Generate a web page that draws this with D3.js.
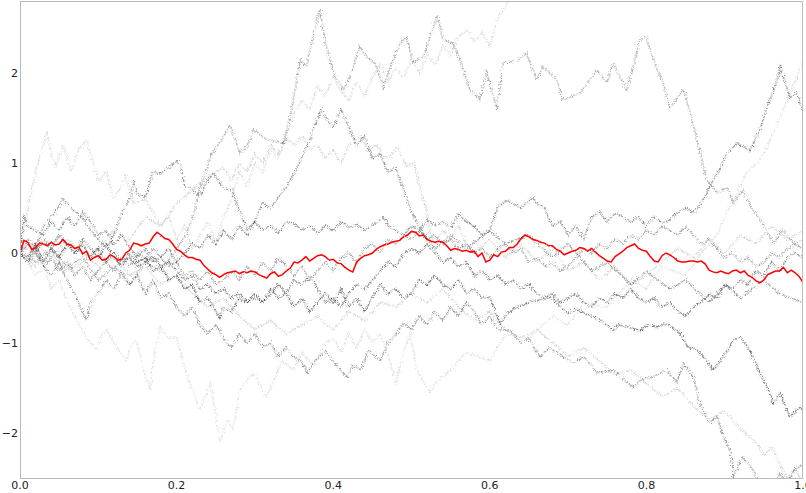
<!DOCTYPE html>
<html>
<head>
<meta charset="utf-8">
<script src="https://cdn.jsdelivr.net/npm/d3@7"></script>
<style>
  html, body { margin: 0; padding: 0; background: #fff; overflow: hidden; }
  #chart text { font-family: "DejaVu Sans", sans-serif; font-size: 11px; fill: #222; }
</style>
</head>
<body>
<div id="chart"></div>
<script>
// Tick labels
var xTicks = [0, 0.2, 0.4, 0.6, 0.8, 1.0];
var yTicks = [-2, -1, 0, 1, 2];

// Sample paths as [t, value] pairs.
var pathA = [[0,0],[0.01,0.15],[0.02,0.05],[0.03,0.3],[0.045,0.45],[0.055,0.6],[0.065,0.5],[0.08,0.4],[0.09,0.25],[0.1,0.15],[0.11,0.05],[0.12,0.2],[0.13,0.45],[0.14,0.6],[0.145,0.78],[0.15,0.65],[0.16,0.62],[0.17,0.9],[0.18,0.88],[0.19,0.95],[0.2,1.03],[0.205,0.98],[0.21,0.75],[0.22,0.7],[0.23,0.62],[0.24,0.82],[0.247,0.89],[0.26,0.72],[0.27,0.7],[0.28,0.48],[0.29,0.26],[0.3,0.35],[0.31,0.56],[0.32,0.5],[0.33,0.62],[0.34,0.73],[0.35,0.88],[0.36,1.07],[0.37,1.26],[0.38,1.5],[0.385,1.59],[0.39,1.5],[0.4,1.4],[0.41,1.6],[0.42,1.4],[0.43,1.2],[0.44,1.3],[0.45,1.05],[0.46,1.1],[0.47,0.9],[0.48,0.95],[0.49,0.7],[0.5,0.45],[0.51,0.3],[0.52,0.15],[0.53,0.05],[0.55,0.2],[0.57,0.05],[0.6,0.25],[0.62,0.1],[0.65,0.2],[0.68,-0.05],[0.7,0.1],[0.73,-0.2],[0.75,-0.1],[0.78,-0.35],[0.8,-0.2],[0.83,-0.4],[0.85,-0.3],[0.88,-0.55],[0.9,-0.35],[0.92,-0.5],[0.95,-0.3],[0.97,-0.45],[1,-0.55]];
var pathB = [[0,0],[0.02,-0.1],[0.04,0.05],[0.06,-0.15],[0.08,-0.05],[0.1,-0.3],[0.12,-0.15],[0.14,-0.35],[0.16,-0.1],[0.18,-0.2],[0.2,0.05],[0.213,0.22],[0.221,0.4],[0.23,0.73],[0.239,0.96],[0.247,1.14],[0.255,1.22],[0.268,1.42],[0.281,1.11],[0.29,1.18],[0.298,1.37],[0.315,1.26],[0.336,1.22],[0.345,1.51],[0.349,1.7],[0.358,2.14],[0.366,2.07],[0.375,2.44],[0.383,2.7],[0.39,2.35],[0.4,2.0],[0.413,1.81],[0.421,1.96],[0.434,2.29],[0.443,2.18],[0.456,2.07],[0.464,1.84],[0.473,2.07],[0.485,2.33],[0.494,2.4],[0.502,2.11],[0.515,2.18],[0.533,2.64],[0.54,2.37],[0.553,2.33],[0.562,2.14],[0.575,1.81],[0.587,1.7],[0.596,2.0],[0.609,1.59],[0.617,2.11],[0.635,2.14],[0.647,2.22],[0.66,1.92],[0.668,2.07],[0.686,1.92],[0.693,1.7],[0.715,1.78],[0.737,2.03],[0.75,1.89],[0.757,2.11],[0.775,1.81],[0.792,2.37],[0.8,2.4],[0.808,2.18],[0.821,1.89],[0.83,1.62],[0.847,1.81],[0.856,1.56],[0.868,1.14],[0.877,0.81],[0.89,0.67],[0.903,0.73],[0.911,0.56],[0.923,0.7],[0.936,0.48],[0.949,0.33],[0.962,0.11],[0.974,0.26],[0.987,0.11],[1,0.14]];
var pathC = [[0,0],[0.01,0.5],[0.02,0.9],[0.034,1.35],[0.04,1.1],[0.045,0.95],[0.055,1.2],[0.065,0.9],[0.075,1.15],[0.085,1.25],[0.095,0.95],[0.1,0.8],[0.11,0.9],[0.12,0.6],[0.13,0.75],[0.135,0.85],[0.145,0.55],[0.16,0.6],[0.17,0.45],[0.18,0.3],[0.19,0.4],[0.2,0.15],[0.21,0.3],[0.22,0.05],[0.23,0.2],[0.24,0.35],[0.25,0.1],[0.26,0.4],[0.27,0.6],[0.28,0.9],[0.29,0.75],[0.3,1.0],[0.31,0.9],[0.32,1.15],[0.33,1.05],[0.34,1.3],[0.35,1.55],[0.36,1.7],[0.37,1.6],[0.38,1.85],[0.39,1.75],[0.4,1.95],[0.41,1.8],[0.42,1.7],[0.43,1.9],[0.44,1.75],[0.45,1.95],[0.46,2.1],[0.47,1.9],[0.48,2.05],[0.49,1.95],[0.5,2.15],[0.51,2.0],[0.52,2.2],[0.53,2.1],[0.54,2.3],[0.55,2.2],[0.56,2.4],[0.571,2.48],[0.58,2.35],[0.59,2.45],[0.6,2.3],[0.61,2.6],[0.62,2.75],[0.626,2.85],[0.64,3.0],[0.66,3.2],[0.7,3.3],[0.8,3.5],[0.9,3.3],[1,3.4]];
var pathD = [[0,0],[0.005,0.4],[0.01,0.3],[0.02,0.25],[0.03,0.2],[0.04,0.35],[0.05,0.25],[0.06,0.4],[0.07,0.3],[0.08,0.45],[0.09,0.35],[0.1,0.2],[0.11,0.25],[0.12,0.1],[0.13,0.2],[0.14,0.05],[0.15,-0.05],[0.16,0.05],[0.17,-0.1],[0.18,-0.05],[0.19,0.05],[0.2,-0.1],[0.21,0.0],[0.22,0.1],[0.23,0.05],[0.24,0.2],[0.25,0.1],[0.26,0.25],[0.27,0.15],[0.28,0.3],[0.29,0.2],[0.3,0.35],[0.31,0.25],[0.32,0.3],[0.33,0.22],[0.34,0.35],[0.35,0.33],[0.36,0.25],[0.37,0.3],[0.38,0.22],[0.39,0.3],[0.4,0.25],[0.41,0.35],[0.42,0.28],[0.43,0.32],[0.44,0.25],[0.45,0.3],[0.465,0.4],[0.47,0.3],[0.48,0.25],[0.49,0.2],[0.5,0.3],[0.51,0.25],[0.52,0.37],[0.53,0.3],[0.54,0.35],[0.55,0.28],[0.56,0.44],[0.57,0.35],[0.58,0.3],[0.59,0.2],[0.6,0.25],[0.61,0.5],[0.62,0.59],[0.63,0.55],[0.64,0.5],[0.655,0.62],[0.66,0.55],[0.67,0.5],[0.68,0.3],[0.69,0.35],[0.7,0.2],[0.71,0.3],[0.72,0.15],[0.73,0.4],[0.74,0.45],[0.75,0.35],[0.76,0.44],[0.77,0.4],[0.78,0.35],[0.79,0.4],[0.8,0.3],[0.81,0.4],[0.82,0.33],[0.83,0.37],[0.84,0.45],[0.85,0.5],[0.86,0.45],[0.87,0.55],[0.885,0.81],[0.895,0.95],[0.903,1.11],[0.916,1.22],[0.932,1.14],[0.945,1.37],[0.954,1.62],[0.967,1.92],[0.971,2.07],[0.983,1.73],[0.992,1.78],[1,1.56]];
var pathF = [[0,0],[0.01,-0.05],[0.02,0.1],[0.03,-0.1],[0.04,0.05],[0.05,-0.05],[0.06,0.1],[0.07,0.0],[0.08,0.15],[0.09,0.05],[0.1,-0.05],[0.11,0.1],[0.12,-0.05],[0.13,-0.15],[0.14,0.0],[0.15,-0.1],[0.16,-0.05],[0.17,-0.2],[0.18,-0.15],[0.19,-0.3],[0.2,-0.25],[0.21,-0.4],[0.22,-0.35],[0.23,-0.55],[0.24,-0.5],[0.25,-0.65],[0.255,-0.72],[0.26,-0.6],[0.27,-0.65],[0.28,-0.5],[0.29,-0.55],[0.3,-0.45],[0.31,-0.55],[0.32,-0.4],[0.33,-0.5],[0.34,-0.45],[0.35,-0.6],[0.36,-0.5],[0.37,-0.65],[0.38,-0.55],[0.39,-0.45],[0.4,-0.55],[0.41,-0.4],[0.42,-0.6],[0.43,-0.5],[0.44,-0.65],[0.45,-0.5],[0.46,-0.35],[0.47,-0.45],[0.48,-0.4],[0.49,-0.5],[0.5,-0.45],[0.51,-0.3],[0.52,-0.35],[0.53,-0.25],[0.54,-0.35],[0.55,-0.4],[0.56,-0.3],[0.57,-0.45],[0.58,-0.4],[0.59,-0.5],[0.6,-0.49],[0.613,-0.78],[0.625,-0.65],[0.635,-0.6],[0.65,-0.55],[0.664,-0.52],[0.68,-0.49],[0.69,-0.6],[0.699,-0.67],[0.71,-0.62],[0.724,-0.68],[0.741,-0.74],[0.757,-0.86],[0.765,-0.8],[0.775,-0.82],[0.792,-0.86],[0.8,-0.8],[0.814,-0.82],[0.826,-0.78],[0.843,-0.89],[0.852,-1.04],[0.865,-1.08],[0.877,-1.19],[0.885,-1.3],[0.898,-1.16],[0.911,-0.97],[0.92,-0.93],[0.932,-1.08],[0.945,-1.33],[0.954,-1.49],[0.962,-1.67],[0.971,-1.56],[0.983,-1.82],[0.996,-1.71],[1,-1.75]];
var pathG = [[0,0],[0.01,-0.1],[0.02,0.05],[0.03,-0.15],[0.04,-0.25],[0.05,-0.1],[0.06,-0.3],[0.07,-0.45],[0.077,-0.6],[0.085,-0.75],[0.09,-0.55],[0.1,-0.45],[0.11,-0.3],[0.12,-0.4],[0.13,-0.2],[0.14,-0.35],[0.15,-0.25],[0.16,-0.45],[0.17,-0.3],[0.18,-0.5],[0.19,-0.45],[0.2,-0.6],[0.21,-0.7],[0.22,-0.6],[0.23,-0.8],[0.24,-0.9],[0.25,-0.8],[0.26,-0.95],[0.27,-1.05],[0.28,-0.9],[0.29,-1.0],[0.3,-0.9],[0.31,-1.05],[0.32,-1.0],[0.33,-1.15],[0.34,-1.05],[0.35,-1.16],[0.36,-1.2],[0.367,-1.33],[0.38,-1.16],[0.39,-1.1],[0.4,-1.2],[0.41,-1.3],[0.417,-1.38],[0.425,-1.25],[0.435,-1.3],[0.445,-1.08],[0.46,-1.2],[0.47,-1.0],[0.48,-0.9],[0.49,-0.78],[0.5,-0.85],[0.51,-0.7],[0.52,-0.8],[0.53,-0.65],[0.54,-0.75],[0.55,-0.6],[0.56,-0.7],[0.57,-0.55],[0.58,-0.65],[0.59,-0.8],[0.6,-0.7],[0.61,-0.85],[0.626,-0.86],[0.64,-1.0],[0.65,-0.95],[0.664,-1.16],[0.675,-1.05],[0.686,-1.11],[0.706,-1.22],[0.72,-1.15],[0.737,-1.33],[0.757,-1.3],[0.77,-1.4],[0.783,-1.49],[0.795,-1.4],[0.808,-1.38],[0.826,-1.3],[0.839,-1.44],[0.847,-1.22],[0.86,-1.38],[0.868,-1.67],[0.881,-1.89],[0.89,-1.82],[0.898,-2.04],[0.907,-2.19],[0.911,-2.49],[0.923,-2.27],[0.936,-2.41],[0.945,-2.6],[0.95,-2.7],[0.96,-2.6],[0.97,-2.45],[0.98,-2.55],[0.99,-2.4],[1,-2.35]];
var pathI = [[0,0],[0.02,-0.15],[0.04,0.0],[0.06,-0.2],[0.08,-0.1],[0.1,0.05],[0.12,0.25],[0.14,0.15],[0.16,0.4],[0.18,0.3],[0.2,0.55],[0.22,0.7],[0.24,0.85],[0.26,0.95],[0.27,0.8],[0.28,1.0],[0.29,0.9],[0.3,1.1],[0.31,1.0],[0.32,1.2],[0.33,1.1],[0.34,1.28],[0.35,1.2],[0.36,1.3],[0.37,1.15],[0.38,1.2],[0.39,1.05],[0.4,1.15],[0.41,1.0],[0.42,1.2],[0.434,1.29],[0.445,1.14],[0.455,1.2],[0.465,1.05],[0.473,1.07],[0.482,1.18],[0.494,0.96],[0.503,1.0],[0.511,0.73],[0.518,0.51],[0.524,0.22],[0.53,0.1],[0.54,0.25],[0.55,0.15],[0.56,0.3],[0.57,0.1],[0.58,0.0],[0.6,0.15],[0.62,-0.05],[0.64,0.1],[0.66,-0.1],[0.68,0.05],[0.7,-0.2],[0.72,-0.1],[0.74,-0.3],[0.76,-0.15],[0.78,-0.35],[0.8,-0.25],[0.82,-0.1],[0.84,0.05],[0.86,-0.05],[0.88,0.15],[0.9,0.0],[0.92,0.2],[0.94,0.1],[0.96,0.3],[0.98,0.15],[1,0.25]];
var pathJ = [[0,0],[0.01,-0.1],[0.02,-0.25],[0.03,-0.15],[0.04,-0.4],[0.05,-0.3],[0.06,-0.55],[0.07,-0.7],[0.077,-0.82],[0.085,-0.95],[0.098,-1.08],[0.105,-0.9],[0.111,-0.86],[0.12,-1.0],[0.136,-1.19],[0.143,-1.0],[0.149,-0.97],[0.158,-1.3],[0.166,-1.52],[0.172,-1.1],[0.179,-0.82],[0.19,-0.95],[0.2,-0.93],[0.208,-1.2],[0.217,-1.45],[0.23,-1.74],[0.243,-1.45],[0.25,-1.8],[0.255,-2.1],[0.265,-1.85],[0.272,-1.97],[0.281,-1.52],[0.298,-1.33],[0.315,-1.6],[0.325,-1.4],[0.335,-1.2],[0.35,-1.3],[0.36,-1.1],[0.375,-1.25],[0.39,-1.0],[0.4,-0.95],[0.41,-1.1],[0.42,-0.9],[0.43,-1.05],[0.44,-0.85],[0.45,-1.0],[0.46,-0.9],[0.468,-1.08],[0.48,-1.44],[0.49,-1.1],[0.498,-0.89],[0.506,-1.27],[0.515,-1.44],[0.524,-1.55],[0.53,-1.45],[0.55,-1.3],[0.57,-1.1],[0.6,-1.2],[0.62,-0.9],[0.65,-0.95],[0.68,-0.7],[0.7,-0.8],[0.72,-0.55],[0.75,-0.6],[0.78,-0.3],[0.8,-0.4],[0.82,-0.15],[0.85,-0.25],[0.87,0.0],[0.89,0.2],[0.9,0.4],[0.911,0.59],[0.92,0.75],[0.928,0.89],[0.945,1.03],[0.955,1.2],[0.962,1.33],[0.975,1.6],[0.98,1.7],[0.99,1.9],[1,2.14]];
var pathK = [[0,0],[0.01,0.1],[0.02,0.0],[0.03,0.15],[0.04,0.05],[0.05,0.2],[0.06,0.1],[0.07,0.0],[0.08,0.1],[0.09,-0.05],[0.1,0.05],[0.11,-0.1],[0.12,0.0],[0.13,-0.1],[0.14,-0.05],[0.15,-0.15],[0.16,-0.1],[0.17,-0.05],[0.18,-0.15],[0.19,-0.1],[0.2,-0.2],[0.21,-0.3],[0.22,-0.25],[0.23,-0.4],[0.24,-0.35],[0.25,-0.45],[0.26,-0.4],[0.27,-0.5],[0.28,-0.45],[0.29,-0.55],[0.3,-0.5],[0.31,-0.55],[0.32,-0.45],[0.33,-0.35],[0.34,-0.45],[0.35,-0.3],[0.36,-0.35],[0.37,-0.25],[0.38,-0.4],[0.39,-0.55],[0.4,-0.5],[0.41,-0.6],[0.42,-0.45],[0.43,-0.35],[0.44,-0.4],[0.45,-0.3],[0.46,-0.2],[0.47,-0.1],[0.48,-0.15],[0.49,0.0],[0.5,0.05],[0.51,0.0],[0.52,0.1],[0.53,0.0],[0.54,-0.1],[0.55,-0.05],[0.56,-0.15],[0.57,-0.1],[0.58,-0.25],[0.59,-0.2],[0.6,-0.3],[0.61,-0.25],[0.62,-0.35],[0.63,-0.3],[0.64,-0.4],[0.65,-0.35],[0.66,-0.45],[0.67,-0.5],[0.68,-0.45],[0.69,-0.55],[0.7,-0.5],[0.71,-0.45],[0.72,-0.55],[0.73,-0.6],[0.74,-0.5],[0.75,-0.55],[0.76,-0.45],[0.77,-0.5],[0.78,-0.4],[0.79,-0.5],[0.8,-0.55],[0.81,-0.5],[0.82,-0.6],[0.83,-0.55],[0.84,-0.65],[0.85,-0.7],[0.86,-0.6],[0.87,-0.55],[0.88,-0.45],[0.89,-0.5],[0.9,-0.35],[0.91,-0.4],[0.92,-0.3],[0.93,-0.35],[0.94,-0.2],[0.95,-0.25],[0.96,-0.1],[0.97,-0.2],[0.98,-0.05],[0.99,0.0],[1,-0.05]];
var pathL = [[0,0],[0.01,-0.1],[0.02,0.0],[0.03,-0.15],[0.04,-0.05],[0.05,-0.2],[0.06,-0.1],[0.07,-0.25],[0.08,-0.15],[0.09,-0.3],[0.1,-0.2],[0.11,-0.1],[0.12,-0.2],[0.13,-0.05],[0.14,-0.15],[0.15,0.0],[0.16,-0.1],[0.17,0.05],[0.18,-0.05],[0.19,-0.15],[0.2,-0.1],[0.21,-0.25],[0.22,-0.2],[0.23,-0.3],[0.24,-0.2],[0.25,-0.35],[0.26,-0.3],[0.27,-0.2],[0.28,-0.3],[0.29,-0.15],[0.3,-0.25],[0.31,-0.1],[0.32,-0.2],[0.33,-0.05],[0.34,-0.15],[0.35,-0.25],[0.36,-0.15],[0.37,-0.3],[0.38,-0.2],[0.39,-0.1],[0.4,-0.2],[0.41,-0.05],[0.42,0.0],[0.43,-0.1],[0.44,0.05],[0.45,0.1],[0.46,0.0],[0.47,0.15],[0.48,0.1],[0.49,0.2],[0.5,0.15],[0.51,0.25],[0.52,0.15],[0.53,0.2],[0.54,0.1],[0.55,0.15],[0.56,0.05],[0.57,0.1],[0.58,0.0],[0.59,0.05],[0.6,-0.05],[0.61,0.05],[0.62,0.1],[0.63,0.0],[0.64,0.05],[0.65,-0.1],[0.66,-0.05],[0.67,-0.15],[0.68,-0.1],[0.69,-0.2],[0.7,-0.15],[0.71,-0.05],[0.72,0.05],[0.73,0.0],[0.74,0.1],[0.75,0.05],[0.76,0.15],[0.77,0.1],[0.78,0.2],[0.79,0.15],[0.8,0.25],[0.81,0.2],[0.82,0.3],[0.83,0.25],[0.84,0.2],[0.85,0.3],[0.86,0.2],[0.87,0.1],[0.88,0.15],[0.89,0.05],[0.9,-0.05],[0.91,0.0],[0.92,-0.1],[0.93,-0.05],[0.94,-0.15],[0.95,-0.1],[0.96,0.0],[0.97,-0.05],[0.98,0.05],[0.99,0.1],[1,0.05]];
var pathM = [[0,0],[0.02,0.1],[0.04,-0.05],[0.06,0.15],[0.08,0.0],[0.1,-0.15],[0.12,-0.05],[0.14,-0.25],[0.16,-0.15],[0.18,-0.35],[0.2,-0.25],[0.22,-0.45],[0.24,-0.6],[0.26,-0.5],[0.28,-0.7],[0.3,-0.85],[0.32,-0.75],[0.34,-0.9],[0.36,-0.8],[0.38,-0.7],[0.4,-0.85],[0.42,-0.65],[0.44,-0.75],[0.46,-0.55],[0.48,-0.6],[0.5,-0.45],[0.52,-0.55],[0.54,-0.4],[0.56,-0.6],[0.58,-0.75],[0.6,-0.65],[0.62,-0.85],[0.64,-0.95],[0.66,-0.85],[0.68,-1.0],[0.7,-1.15],[0.72,-1.05],[0.74,-1.2],[0.76,-1.35],[0.78,-1.3],[0.8,-1.45],[0.82,-1.6],[0.84,-1.5],[0.86,-1.7],[0.88,-1.85],[0.9,-1.75],[0.92,-1.95],[0.94,-2.1],[0.95,-2.25],[0.96,-2.15],[0.97,-2.35],[0.98,-2.5],[0.99,-2.4],[1,-2.55]];

var grayPaths = [pathC, pathJ, pathI, pathM, pathB, pathL, pathA, pathG, pathD, pathK, pathF];
var grayAlpha = [0.15, 0.13, 0.18, 0.18, 0.33, 0.36, 0.42, 0.4, 0.45, 0.5, 0.55];

// Mean path (red), one value every 0.005 of t.
var meanValues = [
  0,0.14,0.12,0.04,0.06,0.11,0.10,0.08,0.12,0.09,0.10,0.15,0.10,0.09,0.05,0.07,-0.01,0.02,-0.08,-0.05,
  -0.03,-0.08,-0.07,-0.02,-0.04,-0.08,-0.07,0.0,0.03,0.11,0.10,0.08,0.10,0.11,0.18,0.23,0.20,0.16,0.15,0.10,
  0.04,0.02,-0.02,-0.05,-0.05,-0.07,-0.08,-0.14,-0.18,-0.22,-0.24,-0.27,-0.24,-0.22,-0.21,-0.2,-0.23,-0.21,-0.22,-0.2,
  -0.21,-0.24,-0.26,-0.28,-0.23,-0.21,-0.26,-0.24,-0.2,-0.17,-0.1,-0.11,-0.08,-0.04,-0.09,-0.06,-0.03,-0.02,-0.04,-0.08,
  -0.07,-0.11,-0.12,-0.16,-0.19,-0.21,-0.1,-0.06,-0.03,-0.02,0.0,0.04,0.07,0.09,0.10,0.12,0.13,0.14,0.18,0.20,
  0.24,0.23,0.19,0.2,0.15,0.13,0.12,0.13,0.12,0.08,0.03,0.05,0.04,0.02,0.03,0.01,0.02,-0.04,0.0,-0.1,
  -0.08,-0.02,-0.04,0.01,0.02,0.06,0.06,0.1,0.16,0.2,0.18,0.15,0.14,0.12,0.11,0.08,0.08,0.04,0.02,-0.02,
  0.0,0.02,0.03,0.06,0.05,0.02,0.05,0.01,-0.03,-0.06,-0.09,-0.1,-0.04,-0.01,0.02,0.06,0.08,0.1,0.05,0.03,
  0.02,-0.04,-0.09,-0.1,-0.03,0.0,-0.02,-0.05,-0.09,-0.1,-0.1,-0.09,-0.09,-0.1,-0.09,-0.12,-0.19,-0.21,-0.22,-0.2,
  -0.22,-0.23,-0.2,-0.19,-0.22,-0.2,-0.25,-0.27,-0.31,-0.33,-0.3,-0.24,-0.22,-0.2,-0.2,-0.16,-0.22,-0.19,-0.22,-0.26,
  -0.33];

var margin = { top: 1, right: 3, bottom: 14, left: 20 },
  width = 806, height = 493;

var x = d3.scaleLinear().domain([0, 1]).range([margin.left, width - margin.right]);
var y = d3.scaleLinear().domain([-2.511, 2.8]).range([height - margin.bottom, margin.top]);

var svg = d3.select("#chart").append("svg")
  .attr("width", width)
  .attr("height", height);

var defs = svg.append("defs");
defs.append("clipPath").attr("id", "plotclip")
  .append("rect")
    .attr("x", x(0)).attr("y", y(2.8))
    .attr("width", x(1) - x(0)).attr("height", y(-2.511) - y(2.8));

// Speckle the lines a little, the way the dense point clouds look.
function roughFilter(id, freq, scale, seed) {
  var f = defs.append("filter").attr("id", id)
    .attr("x", "-5%").attr("y", "-5%").attr("width", "110%").attr("height", "110%");
  f.append("feTurbulence").attr("type", "fractalNoise")
    .attr("baseFrequency", freq).attr("numOctaves", 2).attr("seed", seed).attr("result", "noise");
  f.append("feDisplacementMap").attr("in", "SourceGraphic").attr("in2", "noise")
    .attr("scale", scale).attr("xChannelSelector", "R").attr("yChannelSelector", "G");
}
roughFilter("rough", 0.8, 5, 3);
roughFilter("roughRed", 0.5, 1.8, 7);

var line = d3.line()
  .x(function (d) { return x(d[0]); })
  .y(function (d) { return y(d[1]); });

var plot = svg.append("g").attr("clip-path", "url(#plotclip)");

plot.append("g").attr("filter", "url(#rough)")
  .selectAll(".gray")
  .data(grayPaths)
  .enter().append("path")
    .attr("class", "gray")
    .attr("d", line)
    .style("fill", "none")
    .style("stroke", "#000")
    .style("stroke-width", 1.8)
    .style("stroke-dasharray", "1 1")
    .style("stroke-opacity", function (d, i) { return grayAlpha[i]; });

plot.append("g").attr("filter", "url(#roughRed)")
  .append("path")
  .datum(meanValues.map(function (v, i) { return [i / 200, v]; }))
  .attr("d", line)
  .style("fill", "none")
  .style("stroke", "#ff0000")
  .style("stroke-width", 1.5);

// Frame.
svg.append("rect")
  .attr("x", x(0) + 0.5).attr("y", y(2.8) + 0.5)
  .attr("width", x(1) - x(0) - 1).attr("height", y(-2.511) - y(2.8) - 1)
  .style("fill", "none")
  .style("stroke", "#bbbbbb")
  .style("stroke-width", 1);

// Tick labels.
svg.selectAll(".xlabel")
  .data(xTicks)
  .enter().append("text")
    .attr("class", "xlabel")
    .attr("x", function (d) { return x(d); })
    .attr("y", 489)
    .style("text-anchor", "middle")
    .text(function (d) { return d.toFixed(1); });

svg.selectAll(".ylabel")
  .data(yTicks)
  .enter().append("text")
    .attr("class", "ylabel")
    .attr("x", 18)
    .attr("y", function (d) { return y(d); })
    .attr("dy", "0.35em")
    .style("text-anchor", "end")
    .text(function (d) { return d < 0 ? "\u2212" + Math.abs(d) : d; });
</script>
</body>
</html>
